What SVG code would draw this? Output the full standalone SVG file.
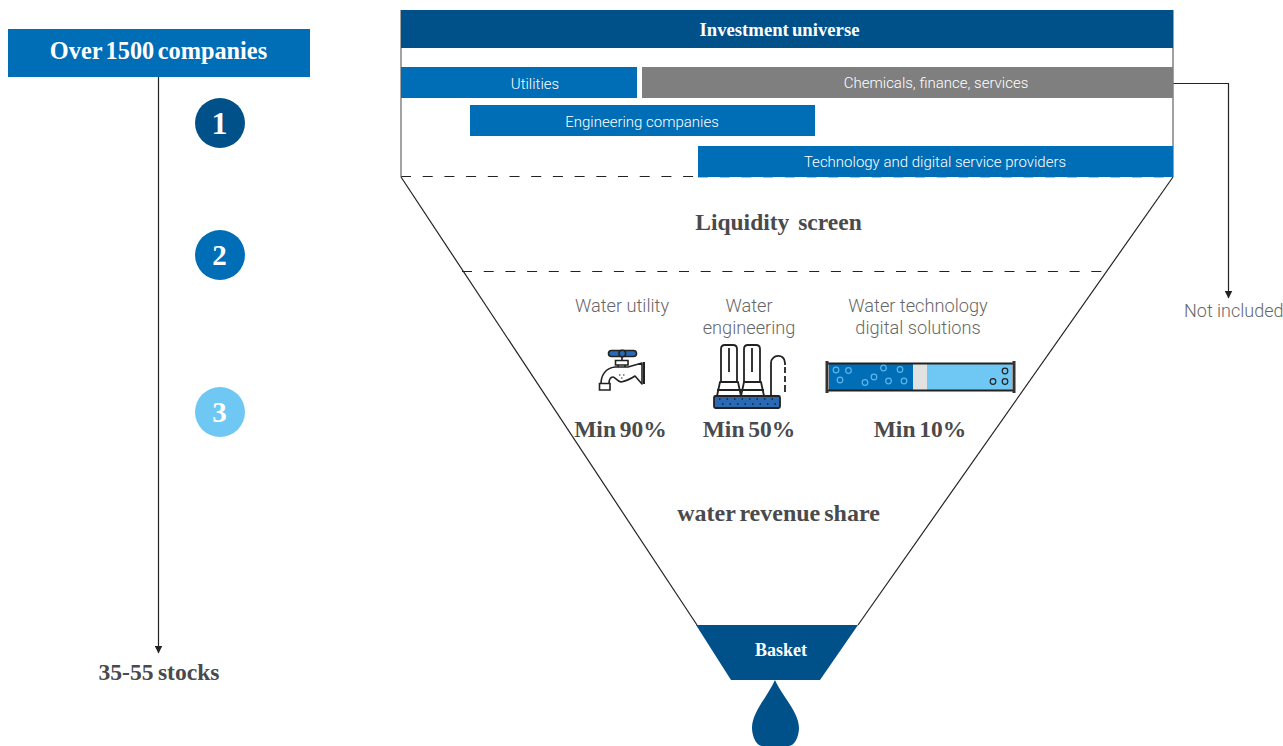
<svg xmlns="http://www.w3.org/2000/svg" width="1283" height="746" viewBox="0 0 1283 746">
<style>
.s{font-family:"Liberation Serif",serif;font-weight:700;text-anchor:middle}
.r{font-family:Roboto,"Liberation Sans",sans-serif;font-weight:300;text-anchor:middle}
.w{fill:#fff}.g{fill:#666769}.d{fill:#4a4a4c}
.ln{fill:none;stroke:#222;stroke-width:1.2}
.da{fill:none;stroke:#222;stroke-width:1.2;stroke-dasharray:10 11.700}
</style>
<defs>
<marker id="a" viewBox="0 0 8 8" refX="7.500" refY="4" markerWidth="8" markerHeight="8" markerUnits="userSpaceOnUse" orient="auto"><path d="M0 0L8 4L0 8Z" fill="#222"/></marker>
</defs>
<g id="connectors">
<path class="ln" d="M158.500 77V653" marker-end="url(#a)"/>
<path class="ln" d="M1173 83.500H1228.500V298" marker-end="url(#a)"/>
<path class="da" d="M401 176.500H698"/>
<path d="M698 177.500H1173" fill="none" stroke="#bbb" stroke-width="1" stroke-dasharray="10 11.700"/>
<path class="da" d="M462 271.500H1112"/>
<path class="ln" d="M401 177L697 625"/>
<path class="ln" d="M1173 177L858 625"/>
<path d="M401 10V177" fill="none" stroke="#666" stroke-width="1.200"/>
<path d="M1173 10V177" fill="none" stroke="#808080" stroke-width="1.500"/>
</g>
<g id="over"><rect x="8" y="29" width="302" height="48" fill="#006eb6"/><text class="s w" x="158.500" y="59" font-size="24.300" word-spacing="-2.500">Over 1500 companies</text></g>
<g id="step1"><circle cx="220" cy="123" r="25" fill="#00508a"/><text class="s w" x="219.500" y="134" font-size="32">1</text></g>
<g id="step2"><circle cx="220" cy="255" r="25" fill="#006eb6"/><text class="s w" x="219.500" y="265" font-size="29">2</text></g>
<g id="step3"><circle cx="220" cy="412" r="25" fill="#6fc8f3"/><text class="s w" x="219.500" y="422" font-size="29">3</text></g>
<g id="stocks"><text class="s d" x="159" y="680" font-size="23.600" word-spacing="-1.500">35-55 stocks</text></g>
<g id="universe"><rect x="401" y="10" width="772" height="38" fill="#00508a"/><text class="s w" x="779.500" y="36" font-size="18.700" word-spacing="-1.500">Investment universe</text></g>
<g id="utilities"><rect x="401" y="67" width="236" height="31" fill="#006eb6"/><text class="r w" x="535" y="89" font-size="15">Utilities</text></g>
<g id="chemicals"><rect x="642" y="67" width="531" height="31" fill="#7f7f7f"/><text class="r w" x="936" y="88" font-size="15">Chemicals, finance, services</text></g>
<g id="engineering"><rect x="470" y="105" width="345" height="31" fill="#006eb6"/><text class="r w" x="642" y="127" font-size="15">Engineering companies</text></g>
<g id="technology"><rect x="698" y="146" width="475" height="31" fill="#006eb6"/><text class="r w" x="935" y="167" font-size="15">Technology and digital service providers</text></g>
<g id="liquidity"><text class="s d" x="778.500" y="230" font-size="23.500" word-spacing="3">Liquidity screen</text></g>
<g id="not-included"><text class="r g" x="1184" y="317" font-size="18" style="text-anchor:start">Not included</text></g>
<g id="water-utility"><text class="r g" x="622" y="312" font-size="18.200">Water utility</text>
<g stroke="#222" stroke-width="1.600">
<path d="M601 384C601 376 605 368 615 367H628L642 363V384L635 376C632 378 627 381 621 382C617 381 615 377 613 377C610 377 609 380 609 384Z" fill="#fff" stroke-linejoin="round"/>
<path d="M599.500 383.500H610V390H599.500Z" fill="#fff"/>
<path d="M615.500 360.500H628V365H615.500Z" fill="#fff"/>
<path d="M618 365V367M625 365V367M622 354V360" fill="none"/>
<path d="M644 362V384" fill="none" stroke-width="2"/>
<rect x="608.500" y="350.500" width="28" height="6" rx="3" fill="#2a6ab4"/>
<circle cx="622.300" cy="353.500" r="3.300" fill="#2a6ab4"/>
</g>
<path d="M619 375h1.500M623 375h1.500M621 378h1.500" stroke="#222" stroke-width="1.200"/>
</g>
<g id="water-engineering"><text class="r g" x="749" y="312" font-size="18.200">Water</text><text class="r g" x="749" y="334" font-size="18.200">engineering</text>
<g stroke="#222" stroke-width="1.800" fill="#fff">
<path d="M721 382V349C721 346 723 345 725 345H733C735 345 737 346 737 349V382Z"/>
<path d="M744 382V349C744 346 746 345 748 345H756C758 345 760 346 760 349V382Z"/>
<path d="M729 348V372M752 348V372" fill="none"/>
<path d="M717 396L720 382H738L741 396ZM741 396L744 382H761L764 396Z" stroke-linejoin="round"/>
<path d="M717 390H741M741 390H764" fill="none"/>
<path d="M771 396V363C771 354 785 353 785 363V365" fill="none"/>
<path d="M785 367V373M785 376V382M785 385V392" fill="none"/>
<rect x="714" y="396" width="66" height="12" rx="1.500" fill="#2a6ab4"/>
</g>
<path d="M719 399h58M722 404h55" stroke="#222" stroke-width="1.500" stroke-dasharray="1.500 6"/>
</g>
<g id="water-technology"><text class="r g" x="918" y="312" font-size="18.200">Water technology</text><text class="r g" x="918" y="334" font-size="18.200">digital solutions</text>
<rect x="829" y="363" width="84" height="27" fill="#006eb6"/>
<rect x="913" y="363" width="14" height="27" fill="#e2e2e2"/>
<rect x="927" y="363" width="85" height="27" fill="#6fc8f3"/>
<path d="M827 363.500H1014M827 390.500H1014" stroke="#222" stroke-width="2" fill="none"/>
<path d="M827 361V393M1014 361V393" stroke="#333" stroke-width="3" fill="none"/>
<g fill="none" stroke="#5db5e8" stroke-width="1.200"><circle cx="836" cy="370" r="2.800"/><circle cx="848.500" cy="370.500" r="2.800"/><circle cx="840" cy="380" r="2.800"/><circle cx="865" cy="382.500" r="2.800"/><circle cx="874" cy="377" r="2.800"/><circle cx="883.500" cy="368" r="2.800"/><circle cx="888.500" cy="381" r="2.800"/><circle cx="900" cy="369.500" r="2.800"/><circle cx="904" cy="381" r="2.800"/></g>
<g fill="none" stroke="#222" stroke-width="1.200"><circle cx="1005" cy="371" r="2.800"/><circle cx="1005" cy="381.500" r="2.800"/><circle cx="993" cy="381.500" r="2.800"/></g>
</g>
<g id="mins"><text class="s d" x="620.500" y="437" font-size="23.500" word-spacing="-2">Min 90%</text><text class="s d" x="749" y="437" font-size="23.500" word-spacing="-2">Min 50%</text><text class="s d" x="920" y="437" font-size="23.500" word-spacing="-2">Min 10%</text></g>
<g id="share"><text class="s d" x="778.500" y="521" font-size="24" word-spacing="-2">water revenue share</text></g>
<g id="basket"><path d="M696 625H858L820 680H731Z" fill="#00508a"/><text class="s w" x="781" y="656" font-size="18">Basket</text></g>
<g id="drop"><path d="M775 680C768 696 752 712 752 728C752 737 757 746 762 746H789C794 746 799 737 799 728C799 712 782 696 775 680Z" fill="#00508a"/></g>
</svg>
